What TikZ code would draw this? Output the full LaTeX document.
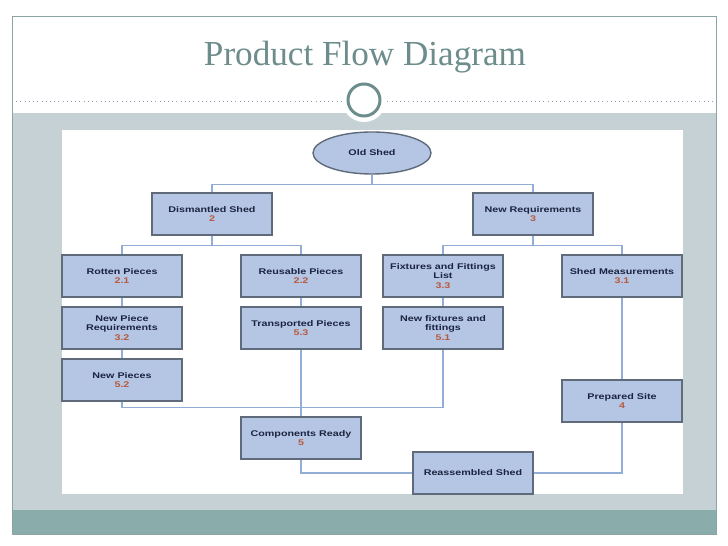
\documentclass[tikz,border=0pt]{standalone}
\usepackage{fontspec}
\setmainfont{Liberation Sans}
\newfontfamily\titlefont{Liberation Serif}
\newfontfamily\boxfont[FakeStretch=1.3]{Liberation Sans}
\usepackage{tikz}
\usetikzlibrary{arrows,shapes,positioning}
\definecolor{boxfill}{HTML}{B4C6E4}
\definecolor{boxline}{HTML}{5F6B7A}
\definecolor{linkblue}{HTML}{93AED6}
\definecolor{numred}{HTML}{B85A3E}
\definecolor{txtnavy}{HTML}{1B2440}
\definecolor{bandgray}{HTML}{C6D1D6}
\definecolor{barteal}{HTML}{8AACAA}
\definecolor{titleteal}{HTML}{6D8C8C}
\newcommand{\pnum}[1]{\\{\color{numred}#1}}
\tikzset{
	stepbox/.style = {rectangle, draw=boxline, line width=0.8pt, fill=boxfill, align=center, inner sep=1pt, text=txtnavy,
		minimum width=2.4cm, minimum height=0.84cm, font=\boxfont\bfseries\fontsize{4.7}{5.3}\selectfont},
	startnode/.style = {stepbox, ellipse, minimum width=2.36cm},
	link/.style = {draw=linkblue, line width=0.6pt}
}
\begin{document}
\begin{tikzpicture}[x=0.02cm, y=-0.02cm]
\useasboundingbox (0,0) rectangle (728,546);
% slide background
\fill[white] (0,0) rectangle (728,546);
\fill[bandgray] (12,113) rectangle (716,510);
\fill[barteal] (12,510) rectangle (716,534);
\draw[titleteal!80, line width=0.4pt] (12,16) rectangle (716,534);
\draw[linkblue!70!gray, dotted, line width=0.4pt] (12,101) -- (716,101);
\node[text=titleteal, font=\titlefont\fontsize{20}{24}\selectfont] (title) at (365,57) {Product Flow Diagram};
\fill[white] (364,100) circle (0.44cm);
\draw[titleteal, line width=1.7pt] (364,100) circle (0.32cm);
\fill[white] (62,130) rectangle (683,494);
% process steps
\node [startnode] (old) at (372,153) {Old Shed};
\node [stepbox] (dism) at (212,214) {Dismantled Shed\pnum{2}};
\node [stepbox] (newreq) at (533,214) {New Requirements\pnum{3}};
\node [stepbox] (rotten) at (122,276) {Rotten Pieces\pnum{2.1}};
\node [stepbox] (reuse) at (301,276) {Reusable Pieces\pnum{2.2}};
\node [stepbox] (fitlist) at (443,276) {Fixtures and Fittings\\List\pnum{3.3}};
\node [stepbox] (measure) at (622,276) {Shed Measurements\pnum{3.1}};
\node [stepbox] (piecereq) at (122,328) {New Piece\\Requirements\pnum{3.2}};
\node [stepbox] (transp) at (301,328) {Transported Pieces\pnum{5.3}};
\node [stepbox] (newfit) at (443,328) {New fixtures and\\fittings\pnum{5.1}};
\node [stepbox] (newpc) at (122,380) {New Pieces\pnum{5.2}};
\node [stepbox] (site) at (622,401) {Prepared Site\pnum{4}};
\node [stepbox] (ready) at (301,438) {Components Ready\pnum{5}};
\node [stepbox] (reas) at (473,473) {Reassembled Shed};
% connectors
\begin{scope}[on background layer/.try]
\draw[link] (old.south) -- ++(0,10) -| (dism.north);
\draw[link] (old.south) -- ++(0,10) -| (newreq.north);
\draw[link] (dism.south) -- ++(0,10) -| (rotten.north);
\draw[link] (dism.south) -- ++(0,10) -| (reuse.north);
\draw[link] (newreq.south) -- ++(0,10) -| (fitlist.north);
\draw[link] (newreq.south) -- ++(0,10) -| (measure.north);
\draw[link] (rotten) -- (piecereq);
\draw[link] (piecereq) -- (newpc);
\draw[link] (reuse) -- (transp);
\draw[link] (fitlist) -- (newfit);
\draw[link] (measure) -- (site);
\draw[link] (transp) -- (ready);
\draw[link] (newpc.south) -- ++(0,6) -| (newfit.south);
\draw[link] (ready.south) |- (reas.west);
\draw[link] (site.south) |- (reas.east);
\end{scope}
\end{tikzpicture}
\end{document}
